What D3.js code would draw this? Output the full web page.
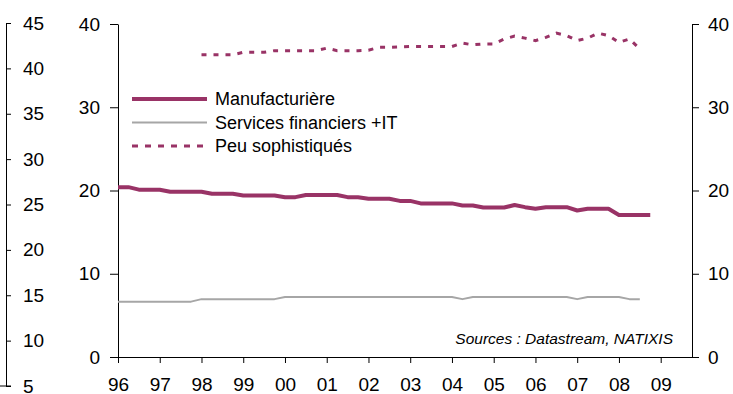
<!DOCTYPE html>
<html>
<head>
<meta charset="utf-8">
<script src="https://cdn.jsdelivr.net/npm/d3@7/dist/d3.min.js"></script>
<style>
  html, body { margin: 0; padding: 0; background: #fff; }
  svg { display: block; font-family: "Liberation Sans", Arial, sans-serif; }
</style>
</head>
<body>
<svg id="chart" width="733" height="394"></svg>
<script>
// Quarterly series, first quarter 1996 onwards (shares, %)
const startYear = 1996;
const years = [1996, 1997, 1998, 1999, 2000, 2001, 2002, 2003, 2004, 2005, 2006, 2007, 2008, 2009];
const innerTicks = [0, 10, 20, 30, 40];
const outerTicks = [5, 10, 15, 20, 25, 30, 35, 40, 45];

const seriesNames = ["Manufacturière", "Services financiers +IT", "Peu sophistiqués"];

// Manufacturière: Q1 1996 .. Q4 2008
const manufacturiere = [
  20.4, 20.4, 20.1, 20.1, 20.1, 19.85, 19.85, 19.85,
  19.85, 19.6, 19.6, 19.6, 19.4, 19.4, 19.4, 19.4,
  19.2, 19.2, 19.45, 19.45, 19.45, 19.45, 19.2, 19.2,
  19.0, 19.0, 19.0, 18.75, 18.75, 18.45, 18.45, 18.45,
  18.45, 18.2, 18.2, 17.95, 17.95, 17.95, 18.25, 18.0,
  17.8, 18.0, 18.0, 18.0, 17.6, 17.8, 17.8, 17.8,
  17.05, 17.05, 17.05, 17.05
];
const manufStart = 0;

// Services financiers + IT: Q1 1996 .. Q3 2008
const servicesFinIT = [
  6.65, 6.65, 6.65, 6.65, 6.65, 6.65, 6.65, 6.65,
  6.95, 6.95, 6.95, 6.95, 6.95, 6.95, 6.95, 6.95,
  7.2, 7.2, 7.2, 7.2, 7.2, 7.2, 7.2, 7.2,
  7.2, 7.2, 7.2, 7.2, 7.2, 7.2, 7.2, 7.2,
  7.2, 6.95, 7.2, 7.2, 7.2, 7.2, 7.2, 7.2,
  7.2, 7.2, 7.2, 7.2, 6.95, 7.2, 7.2, 7.2,
  7.2, 6.95, 6.95
];
const servicesStart = 0;

// Peu sophistiqués: Q1 1998 .. Q3 2008
const peuSophistiques = [
  36.3, 36.3, 36.3, 36.3, 36.6, 36.6, 36.6, 36.8,
  36.8, 36.8, 36.8, 36.8, 37.1, 36.8, 36.8, 36.8,
  36.85, 37.2, 37.2, 37.25, 37.3, 37.3, 37.3, 37.3,
  37.3, 37.7, 37.5, 37.6, 37.6, 38.2, 38.55, 38.3,
  38.0, 38.4, 38.9, 38.6, 38.0, 38.3, 38.9, 38.6,
  37.8, 38.2, 37.0
];
const peuStart = 8;

const sourceText = "Sources : Datastream, NATIXIS";

// ---- layout ----
const svg = d3.select("#chart");
const axisFont = 19;
const purple = "#993366";
const grey = "#a6a6a6";

const x = d3.scaleLinear().domain([1996, 2009.75]).range([118, 692]);
const y = d3.scaleLinear().domain([0, 40]).range([357, 24]);
const yOuter = d3.scaleLinear().domain([5, 45]).range([386, 23]);

function styleAxis(g) {
  g.selectAll("path.domain").attr("stroke", "#000").attr("stroke-width", 1);
  g.selectAll(".tick line").attr("stroke", "#000").attr("stroke-width", 1);
  g.selectAll(".tick text").attr("fill", "#000").style("font-size", axisFont + "px")
    .style("font-family", "'Liberation Sans', Arial, sans-serif");
}

// outer left axis (5 – 45)
const gOuter = svg.append("g").attr("transform", "translate(6,0)")
  .call(d3.axisRight(yOuter).tickValues(outerTicks).tickSize(5).tickSizeOuter(0).tickPadding(12))
  .call(styleAxis);
svg.append("line").attr("x1", 0).attr("x2", 11)
  .attr("y1", yOuter(5)).attr("y2", yOuter(5))
  .attr("stroke", "#000").attr("stroke-width", 1);

// inner left axis
svg.append("g").attr("transform", "translate(118,0)")
  .call(d3.axisLeft(y).tickValues(innerTicks).tickSize(8).tickSizeOuter(0).tickPadding(10))
  .call(styleAxis);

// right axis
svg.append("g").attr("transform", "translate(692,0)")
  .call(d3.axisRight(y).tickValues(innerTicks).tickSize(7).tickSizeOuter(0).tickPadding(9))
  .call(styleAxis);

// time axis
svg.append("g").attr("transform", "translate(0," + y(0) + ")")
  .call(d3.axisBottom(x).tickValues(years).tickSize(6).tickSizeOuter(0).tickPadding(15)
    .tickFormat(d => String(d % 100).padStart(2, "0")))
  .call(styleAxis);

// ---- series ----
function lineFor(start) {
  return d3.line()
    .x((d, i) => x(startYear + (start + i) / 4))
    .y(d => y(d));
}

svg.append("path").datum(servicesFinIT)
  .attr("d", lineFor(servicesStart))
  .attr("fill", "none").attr("stroke", grey).attr("stroke-width", 2)
  .attr("stroke-linejoin", "round");

svg.append("path").datum(manufacturiere)
  .attr("d", lineFor(manufStart))
  .attr("fill", "none").attr("stroke", purple).attr("stroke-width", 4)
  .attr("stroke-linejoin", "round");

svg.append("path").datum(peuSophistiques)
  .attr("d", lineFor(peuStart))
  .attr("fill", "none").attr("stroke", purple).attr("stroke-width", 3)
  .attr("stroke-dasharray", "5,7");

// ---- legend ----
const legendItems = [
  { name: seriesNames[0], color: purple, width: 4, dash: null },
  { name: seriesNames[1], color: grey, width: 2, dash: null },
  { name: seriesNames[2], color: purple, width: 3, dash: "6,7" }
];
const legend = svg.append("g").attr("transform", "translate(132,99)");
legendItems.forEach((it, i) => {
  const g = legend.append("g").attr("transform", "translate(0," + (i * 23.5) + ")");
  g.append("line").attr("x1", 0).attr("x2", 75).attr("y1", 0).attr("y2", 0)
    .attr("stroke", it.color).attr("stroke-width", it.width)
    .attr("stroke-dasharray", it.dash);
  g.append("text").attr("x", 83).attr("y", 6)
    .style("font-size", "18px").attr("fill", "#000").text(it.name);
});

// ---- source note ----
svg.append("text").attr("x", 673).attr("y", 344).attr("text-anchor", "end")
  .style("font-size", "15.5px").style("font-style", "italic").attr("fill", "#000")
  .text(sourceText);
</script>
</body>
</html>
